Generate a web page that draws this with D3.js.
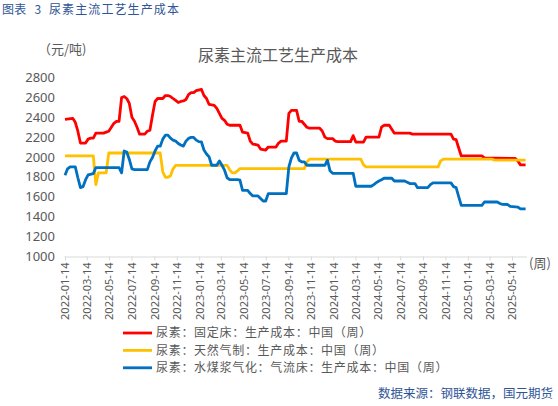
<!DOCTYPE html>
<html><head><meta charset="utf-8">
<script src="https://cdn.jsdelivr.net/npm/d3@7"></script>
<style>
html,body{margin:0;padding:0;background:#fff;}
svg{display:block;font-family:"Noto Sans CJK SC","Noto Sans",sans-serif;}
</style></head>
<body><svg id="c" width="558" height="406"></svg>
<script>
// ---- data (breakpoints of the weekly series) ----
const fixedBed = [
["2022-01-14",2380],["2022-02-04",2390],["2022-02-11",2350],["2022-02-18",2260],["2022-02-25",2140],
["2022-03-11",2140],["2022-03-18",2180],["2022-03-25",2190],["2022-04-01",2190],["2022-04-08",2240],
["2022-04-29",2240],["2022-05-06",2250],["2022-05-13",2260],["2022-05-20",2300],["2022-05-27",2340],
["2022-06-03",2360],["2022-06-10",2360],["2022-06-17",2600],["2022-06-24",2610],["2022-07-01",2590],
["2022-07-08",2540],["2022-07-15",2400],["2022-07-22",2360],["2022-07-29",2300],["2022-08-05",2230],
["2022-08-19",2230],["2022-08-26",2260],["2022-09-02",2270],["2022-09-09",2420],["2022-09-16",2560],
["2022-09-23",2590],["2022-10-07",2590],["2022-10-14",2620],["2022-10-21",2620],["2022-10-28",2610],
["2022-11-04",2590],["2022-11-11",2570],["2022-11-18",2550],["2022-11-25",2560],["2022-12-02",2565],
["2022-12-09",2580],["2022-12-16",2630],["2022-12-23",2650],["2022-12-30",2650],["2023-01-06",2670],
["2023-01-20",2683],["2023-01-27",2620],["2023-02-03",2590],["2023-02-10",2530],["2023-02-24",2520],
["2023-03-03",2490],["2023-03-10",2440],["2023-03-17",2390],["2023-03-24",2370],["2023-03-31",2330],
["2023-04-07",2320],["2023-05-05",2320],["2023-05-12",2250],["2023-05-26",2240],["2023-06-02",2160],
["2023-06-09",2130],["2023-06-23",2120],["2023-06-30",2080],["2023-07-14",2070],["2023-07-21",2100],
["2023-08-11",2100],["2023-08-18",2140],["2023-08-25",2160],["2023-09-08",2160],["2023-09-15",2440],
["2023-09-22",2470],["2023-10-06",2470],["2023-10-13",2360],["2023-10-20",2360],["2023-10-27",2330],
["2023-11-03",2300],["2023-11-10",2290],["2023-12-08",2290],["2023-12-15",2260],["2023-12-22",2200],
["2023-12-29",2185],["2024-01-12",2185],["2024-01-19",2160],["2024-01-26",2155],["2024-03-01",2155],
["2024-03-08",2215],["2024-03-15",2150],["2024-04-05",2150],["2024-04-12",2200],["2024-05-17",2200],
["2024-05-24",2300],["2024-05-31",2320],["2024-06-14",2320],["2024-06-21",2280],["2024-06-28",2240],
["2024-08-09",2240],["2024-08-16",2230],["2024-11-29",2230],["2024-12-06",2180],["2024-12-13",2175],
["2024-12-20",2090],["2024-12-27",2010],["2025-02-21",2010],["2025-02-28",1990],["2025-05-23",1985],
["2025-05-30",1960],["2025-06-06",1920],["2025-06-20",1920]
];
const naturalGas = [
["2022-01-14",2010],["2022-04-01",2010],["2022-04-08",1720],["2022-04-15",1840],["2022-05-06",1840],
["2022-05-13",2040],["2022-09-30",2040],["2022-10-07",1850],["2022-10-14",1795],["2022-10-21",1795],
["2022-10-28",1810],["2022-11-04",1880],["2022-11-11",1915],["2023-03-31",1915],["2023-04-07",1870],
["2023-04-14",1840],["2023-04-21",1840],["2023-04-28",1860],["2023-05-05",1882],["2023-10-27",1882],
["2023-11-03",1950],["2023-11-10",1977],["2024-03-29",1977],["2024-04-05",1920],["2024-04-12",1900],
["2024-10-25",1900],["2024-11-01",1960],["2024-11-08",1977],["2025-03-21",1977],["2025-03-28",1968],
["2025-06-20",1968]
];
const coalSlurry = [
["2022-01-14",1815],["2022-01-21",1880],["2022-01-28",1900],["2022-02-11",1900],["2022-02-18",1790],
["2022-02-25",1690],["2022-03-04",1700],["2022-03-11",1770],["2022-03-18",1820],["2022-04-01",1832],
["2022-04-08",1893],["2022-06-10",1893],["2022-06-17",1840],["2022-06-24",2060],["2022-07-01",2050],
["2022-07-08",1975],["2022-07-15",1880],["2022-07-22",1872],["2022-08-26",1872],["2022-09-02",1950],
["2022-09-09",1995],["2022-09-16",2060],["2022-09-23",2109],["2022-09-30",2109],["2022-10-07",2180],
["2022-10-14",2220],["2022-10-21",2220],["2022-10-28",2190],["2022-11-04",2170],["2022-11-11",2160],
["2022-11-18",2136],["2022-11-25",2120],["2022-12-02",2109],["2022-12-09",2160],["2022-12-16",2187],
["2022-12-23",2197],["2022-12-30",2197],["2023-01-06",2170],["2023-01-13",2155],["2023-01-20",2153],
["2023-01-27",2070],["2023-02-03",2030],["2023-02-10",2000],["2023-02-17",1916],["2023-03-03",1916],
["2023-03-10",1960],["2023-03-17",1916],["2023-03-24",1866],["2023-03-31",1790],["2023-04-07",1772],
["2023-04-28",1772],["2023-05-05",1765],["2023-05-12",1663],["2023-05-26",1663],["2023-06-02",1630],
["2023-06-09",1606],["2023-06-23",1606],["2023-06-30",1580],["2023-07-07",1555],["2023-07-14",1555],
["2023-07-21",1630],["2023-09-08",1630],["2023-09-15",1900],["2023-09-22",1990],["2023-09-29",2040],
["2023-10-06",2040],["2023-10-13",1967],["2023-10-20",1950],["2023-10-27",1950],["2023-11-03",1916],
["2023-12-22",1916],["2023-12-29",1967],["2024-01-05",1860],["2024-01-12",1835],["2024-03-08",1835],
["2024-03-15",1704],["2024-04-26",1704],["2024-05-03",1720],["2024-05-10",1740],["2024-05-17",1757],
["2024-05-24",1770],["2024-05-31",1785],["2024-06-21",1785],["2024-06-28",1757],["2024-07-26",1757],
["2024-08-02",1745],["2024-08-09",1731],["2024-08-23",1731],["2024-08-30",1690],["2024-09-27",1690],
["2024-10-04",1720],["2024-10-11",1738],["2024-11-29",1738],["2024-12-06",1700],["2024-12-13",1690],
["2024-12-20",1600],["2024-12-27",1511],["2025-02-21",1511],["2025-02-28",1545],["2025-04-04",1545],
["2025-04-11",1530],["2025-04-18",1522],["2025-05-02",1520],["2025-05-09",1500],["2025-05-30",1494],
["2025-06-06",1475],["2025-06-20",1475]
];
const xTickLabels = ["2022-01-14","2022-03-14","2022-05-14","2022-07-14","2022-09-14","2022-11-14",
"2023-01-14","2023-03-14","2023-05-14","2023-07-14","2023-09-14","2023-11-14","2024-01-14","2024-03-14",
"2024-05-14","2024-07-14","2024-09-14","2024-11-14","2025-01-14","2025-03-14","2025-05-14"];
const yTicks = [1000,1200,1400,1600,1800,2000,2200,2400,2600,2800];
const seriesNames = ["尿素：固定床：生产成本：中国（周）","尿素：天然气制：生产成本：中国（周）","尿素：水煤浆气化：气流床：生产成本：中国（周）"];
const seriesColors = ["#FF0000","#FFC000","#0070C0"];

// ---- drawing ----
const parse = d3.timeParse("%Y-%m-%d");
const svg = d3.select("#c");
const gray = "#595959";
const x = d3.scaleTime().domain([parse("2022-01-14"), parse("2025-06-20")]).range([65, 525.6]);
const y = d3.scaleLinear().domain([1000, 2800]).range([256, 77.7]);

// header
const hdr = svg.append("g").attr("fill", "#2F5597").attr("font-size", 12);
hdr.append("text").attr("x", 2).attr("y", 14).attr("letter-spacing", 0.3).text("图表");
hdr.append("text").attr("x", 34.5).attr("y", 14).text("3");
hdr.append("text").attr("x", 49).attr("y", 14).attr("letter-spacing", 1.1).text("尿素主流工艺生产成本");

svg.append("text").attr("x", 38).attr("y", 54).attr("fill", gray)
  .attr("font-size", 13).text("（元/吨)");
svg.append("text").attr("x", 278).attr("y", 61).attr("fill", gray).attr("text-anchor", "middle")
  .attr("font-size", 16).text("尿素主流工艺生产成本");

// y axis (labels only)
const yAxis = d3.axisLeft(y).tickValues(yTicks).tickSize(0).tickPadding(10).tickFormat(d3.format("d"));
const gy = svg.append("g").attr("transform", "translate(65,0)").call(yAxis);
gy.select(".domain").remove();
gy.selectAll("text").attr("fill", gray).attr("font-size", 13).attr("font-family", "'Noto Sans','Noto Sans CJK SC',sans-serif");

// x axis
const xAxis = d3.axisBottom(x).tickValues(xTickLabels.map(parse)).tickSize(4).tickSizeOuter(0)
  .tickFormat(d3.timeFormat("%Y-%m-%d"));
const gx = svg.append("g").attr("transform", "translate(0,256.5)").call(xAxis);
gx.select(".domain").attr("stroke", "#D9D9D9").attr("d", "M64.5,0.5H527");
gx.selectAll(".tick line").attr("stroke", "#D9D9D9");
gx.selectAll("text").attr("fill", gray).attr("font-size", 11)
  .attr("font-family", "'Noto Sans','Noto Sans CJK SC',sans-serif")
  .attr("transform", "rotate(-90)").attr("text-anchor", "end")
  .attr("x", -6).attr("y", 0).attr("dy", "0.35em");
svg.append("text").attr("x", 529).attr("y", 268).attr("fill", gray)
  .attr("font-size", 13).text("(周)");

// lines
const line = d3.line().x(d => x(parse(d[0]))).y(d => y(d[1]));
[fixedBed, naturalGas, coalSlurry].forEach((s, i) => {
  svg.append("path").datum(s).attr("d", line).attr("fill", "none")
    .attr("stroke", seriesColors[i]).attr("stroke-width", 2.8).attr("stroke-linejoin", "round");
});

// legend
const lg = svg.append("g");
seriesNames.forEach((n, i) => {
  const yy = 333 + i * 17.4;
  lg.append("line").attr("x1", 123).attr("x2", 152).attr("y1", yy).attr("y2", yy)
    .attr("stroke", seriesColors[i]).attr("stroke-width", 2.8);
  lg.append("text").attr("x", 156).attr("y", yy + 4.3).attr("fill", gray).attr("font-size", 12)
    .attr("letter-spacing", 0.7).text(n);
});

svg.append("text").attr("x", 553).attr("y", 398).attr("text-anchor", "end").attr("fill", "#2F5597")
  .attr("font-size", 12.5).text("数据来源：钢联数据，国元期货");
</script></body></html>
